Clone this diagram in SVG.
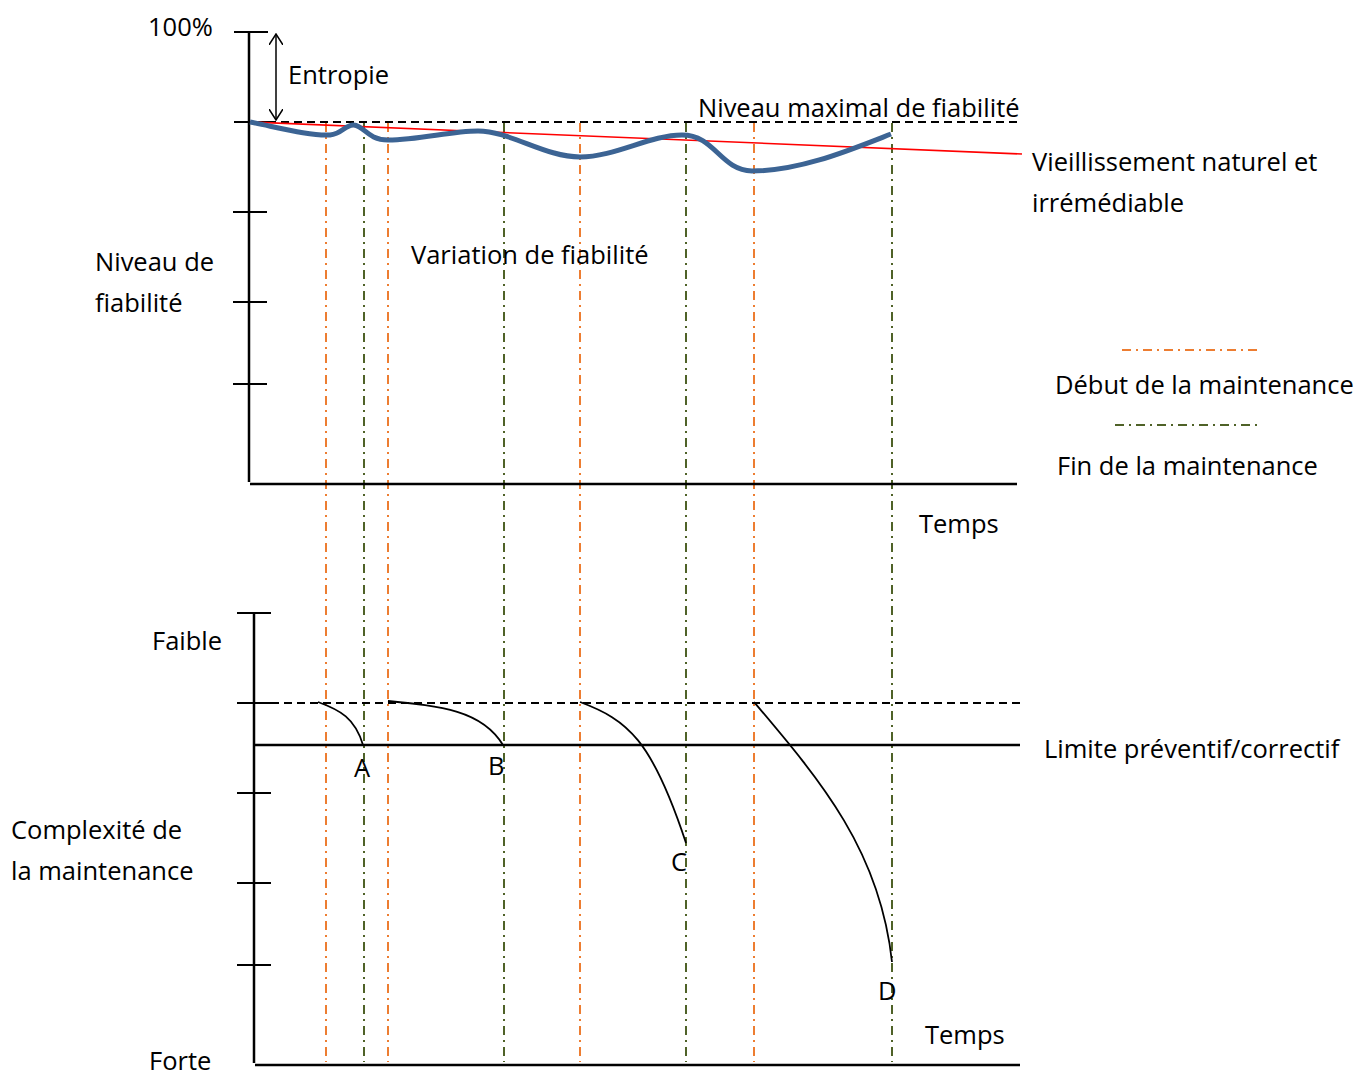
<svg xmlns="http://www.w3.org/2000/svg" width="1355" height="1075" viewBox="0 0 1355 1075">
<defs>
<style>
text{font-family:"Open Sans","Liberation Sans",sans-serif;font-size:25.5px;fill:#000}
.ax{stroke:#000;stroke-width:2.5;fill:none}
.tk{stroke:#000;stroke-width:2;fill:none}
.dash{stroke:#000;stroke-width:2;stroke-dasharray:8 5;fill:none}
.or{stroke:#ED7D31;stroke-width:2;stroke-dasharray:9 5 2 5;fill:none}
.gr{stroke:#4F6228;stroke-width:2;stroke-dasharray:9 5 2 5;fill:none}
.cv{stroke:#000;stroke-width:1.8;fill:none}
</style>
<marker id="ah" viewBox="0 0 12 14" refX="11" refY="7" markerWidth="12" markerHeight="14" markerUnits="userSpaceOnUse" orient="auto-start-reverse">
<path d="M0,0 L11,7 L0,14" fill="none" stroke="#000" stroke-width="1.5"/>
</marker>
</defs>
<rect width="1355" height="1075" fill="#fff"/>

<g id="connectors">
<line class="or" x1="326" y1="123" x2="326" y2="1062"/>
<line class="gr" x1="364" y1="123" x2="364" y2="1062"/>
<line class="or" x1="388" y1="123" x2="388" y2="1062"/>
<line class="gr" x1="504" y1="123" x2="504" y2="1062"/>
<line class="or" x1="580" y1="123" x2="580" y2="1062"/>
<line class="gr" x1="686" y1="123" x2="686" y2="1062"/>
<line class="or" x1="754" y1="123" x2="754" y2="1062"/>
<line class="gr" x1="892" y1="123" x2="892" y2="1062"/>
</g>

<g id="top-chart">
<line class="ax" x1="249" y1="32" x2="249" y2="482"/>
<line class="ax" x1="250" y1="484" x2="1017" y2="484"/>
<line class="tk" x1="234" y1="32" x2="268" y2="32"/>
<line class="tk" x1="234" y1="122" x2="268" y2="122"/>
<line class="tk" x1="233" y1="212" x2="267" y2="212"/>
<line class="tk" x1="233" y1="302" x2="267" y2="302"/>
<line class="tk" x1="233" y1="384" x2="267" y2="384"/>
<line class="dash" x1="268" y1="122" x2="1020" y2="122"/>
<line x1="276" y1="34" x2="276" y2="120" stroke="#000" stroke-width="1.5" marker-start="url(#ah)" marker-end="url(#ah)"/>
<line x1="250" y1="122" x2="1022" y2="154" stroke="#FF0000" stroke-width="1.6"/>
<path d="M250,122 C280,128 310,136 330,135 C342,134 346,124 354,125 C364,126 368,140 388,140 C420,140 450,131 478,131 C510,131 545,157 580,157 C615,157 650,135 682,135 C715,135 720,170 752,171 C800,171 850,150 891,134" fill="none" stroke="#3C6494" stroke-width="5"/>
</g>

<g id="bottom-chart">
<line class="ax" x1="254" y1="612" x2="254" y2="1063"/>
<line class="ax" x1="255" y1="1065" x2="1020" y2="1065"/>
<line class="tk" x1="237" y1="613" x2="271" y2="613"/>
<line class="tk" x1="237" y1="703" x2="271" y2="703"/>
<line class="tk" x1="237" y1="793" x2="271" y2="793"/>
<line class="tk" x1="237" y1="883" x2="271" y2="883"/>
<line class="tk" x1="237" y1="965" x2="271" y2="965"/>
<line class="dash" x1="271" y1="703" x2="1020" y2="703"/>
<line class="ax" x1="255" y1="745" x2="1020" y2="745" stroke-width="2"/>
<path class="cv" d="M318,702 C340,710 355,718 363,745"/>
<path class="cv" d="M388,701 C440,706 482,710 503,745"/>
<path class="cv" d="M580,702 C628,720 652,740 686,843"/>
<path class="cv" d="M754,702 C820,780 880,850 892,962"/>
</g>

<g id="legend">
<line class="or" x1="1122" y1="350" x2="1262" y2="350"/>
<line class="gr" x1="1115" y1="425" x2="1262" y2="425"/>
</g>

<g id="labels">
<text x="148" y="36">100%</text>
<text x="288" y="84">Entropie</text>
<text x="698" y="117">Niveau maximal de fiabilité</text>
<text x="1032" y="171">Vieillissement naturel et</text>
<text x="1032" y="212">irrémédiable</text>
<text x="411" y="264">Variation de fiabilité</text>
<text x="95" y="271">Niveau de</text>
<text x="95" y="312">fiabilité</text>
<text x="1055" y="394">Début de la maintenance</text>
<text x="1057" y="475">Fin de la maintenance</text>
<text x="919" y="533">Temps</text>
<text x="152" y="650">Faible</text>
<text x="1044" y="758">Limite préventif/correctif</text>
<text x="354" y="777">A</text>
<text x="488" y="775">B</text>
<text x="671" y="871">C</text>
<text x="878" y="1000">D</text>
<text x="11" y="839">Complexité de</text>
<text x="11" y="880">la maintenance</text>
<text x="925" y="1044">Temps</text>
<text x="149" y="1070">Forte</text>
</g>
</svg>
